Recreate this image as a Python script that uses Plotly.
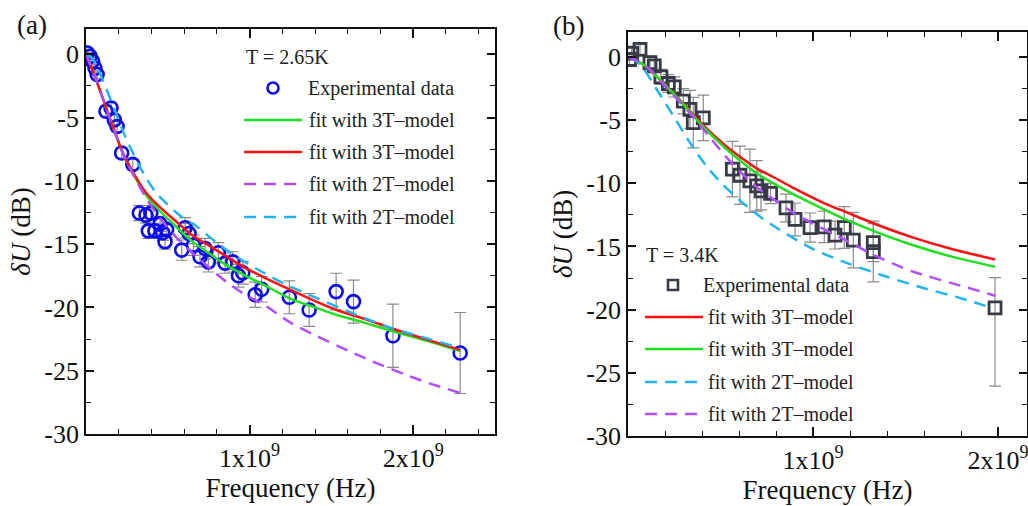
import plotly.graph_objects as go

# ---------------- Panel (a): T = 2.65K ----------------
freq_a = [0.008, 0.025, 0.040, 0.055, 0.068, 0.122, 0.153, 0.173, 0.190, 0.218,
          0.286, 0.326, 0.367, 0.396, 0.381, 0.422, 0.453, 0.469, 0.493, 0.483,
          0.606, 0.630, 0.585, 0.656, 0.697, 0.728, 0.748, 0.809, 0.850, 0.897,
          0.932, 0.958, 1.034, 1.074, 1.243, 1.364, 1.529, 1.635, 1.876, 2.287]
du_a = [0.1, -0.15, -0.55, -1.1, -1.6, -4.5, -4.24, -5.18, -5.7, -7.8,
        -8.7, -12.54, -12.72, -12.54, -13.95, -13.95, -13.4, -14.1, -13.85, -14.8,
        -13.7, -14.16, -15.47, -15.08, -16.0, -15.34, -16.4, -15.68, -16.5, -16.4,
        -17.5, -17.26, -19.0, -18.57, -19.2, -20.2, -18.75, -19.54, -22.24, -23.6]
err_a = [0.3, 0.3, 0.3, 0.3, 0.3, 0.4, 0.4, 0.4, 0.4, 0.4,
         0.4, 0.6, 0.6, 0.6, 0.6, 0.6, 0.6, 0.6, 0.6, 0.6,
         0.8, 0.8, 0.8, 0.8, 0.8, 0.8, 0.8, 0.8, 0.8, 0.8,
         0.9, 0.9, 1.0, 1.0, 1.3, 1.3, 1.45, 1.7, 2.5, 3.2]

fit3_red_f_a = [0, 0.02, 0.05, 0.086, 0.15, 0.228, 0.3, 0.371, 0.453, 0.55, 0.65,
                0.75, 0.85, 0.962, 1.084, 1.248, 1.4, 1.533, 1.7, 1.88, 2.1, 2.287]
fit3_red_a = [0, -0.6, -1.6, -2.87, -5.2, -7.86, -9.6, -11.0, -12.1, -13.2, -14.3,
              -15.1, -15.9, -16.8, -17.6, -18.6, -19.5, -20.2, -20.9, -21.7, -22.6, -23.35]
fit3_green_f_a = fit3_red_f_a
fit3_green_a = [0, -0.6, -1.6, -2.87, -5.2, -7.9, -9.7, -11.2, -12.4, -13.6, -14.8,
                -15.7, -16.6, -17.4, -18.2, -19.3, -20.0, -20.6, -21.2, -21.9, -22.7, -23.45]
fit2_cyan_f_a = [0.01, 0.035, 0.065, 0.12, 0.177, 0.23, 0.289, 0.36, 0.432, 0.493, 0.58,
                 0.677, 0.8, 0.922, 1.05, 1.207, 1.4, 1.6, 1.86, 2.1, 2.287]
fit2_cyan_a = [0, -0.3, -0.9, -2.6, -4.45, -6.2, -7.86, -9.6, -11.0, -11.8, -12.8,
               -13.6, -14.9, -16.0, -17.0, -18.1, -19.2, -20.3, -21.6, -22.5, -23.2]
fit2_purple_f_a = [0, 0.02, 0.05, 0.086, 0.15, 0.228, 0.3, 0.38, 0.45, 0.555, 0.65,
                   0.758, 0.86, 0.962, 1.1, 1.25, 1.4, 1.6, 1.757, 1.95, 2.1, 2.287]
fit2_purple_a = [0, -0.6, -1.6, -2.87, -5.2, -7.9, -9.8, -11.6, -12.9, -14.5, -15.7,
                 -16.9, -18.0, -18.9, -19.9, -21.2, -22.2, -23.4, -24.3, -25.3, -26.0, -26.75]

# ---------------- Panel (b): T = 3.4K ----------------
freq_b = [0.008, 0.020, 0.065, 0.119, 0.142, 0.178, 0.218, 0.250, 0.299, 0.335,
          0.353, 0.407, 0.564, 0.605, 0.659, 0.696, 0.719, 0.771, 0.854, 0.903,
          0.984, 1.061, 1.119, 1.169, 1.218, 1.326, 1.326, 1.984]
du_b = [-0.2, 0.3, 0.6, -0.45, -0.7, -1.58, -2.1, -2.37, -3.5, -4.14,
        -5.2, -4.82, -8.88, -9.36, -9.8, -10.2, -10.6, -10.8, -11.95, -12.86,
        -13.5, -13.45, -14.1, -13.5, -14.5, -14.7, -15.4, -19.86]
err_b_plus = [0.4, 0.4, 0.4, 0.5, 0.5, 0.6, 0.7, 0.8, 1.0, 1.5,
              2.0, 1.8, 2.2, 2.3, 2.5, 2.0, 1.5, 0.8, 1.1, 1.3,
              1.15, 1.25, 1.1, 1.65, 2.2, 1.5, 2.4, 2.4]
err_b_minus = [0.4, 0.4, 0.4, 0.5, 0.5, 0.6, 0.7, 0.8, 1.0, 1.5,
               2.0, 1.8, 2.2, 2.3, 2.5, 2.0, 1.5, 0.8, 1.1, 1.3,
               1.15, 1.25, 1.1, 1.65, 2.2, 1.5, 2.4, 6.2]

fit3_red_f_b = [0, 0.05, 0.1, 0.2, 0.3, 0.398, 0.524, 0.605, 0.704, 0.785, 0.885,
                1.065, 1.182, 1.35, 1.542, 1.75, 1.984]
fit3_red_b = [0, -0.3, -0.8, -2.2, -3.7, -5.27, -6.99, -7.9, -8.9, -9.5, -10.3,
              -11.6, -12.3, -13.3, -14.3, -15.2, -16.03]
fit3_green_f_b = fit3_red_f_b
fit3_green_b = [0, -0.3, -0.8, -2.2, -3.75, -5.4, -7.2, -8.2, -9.3, -10.0, -10.8,
                -12.1, -12.9, -13.9, -14.9, -15.8, -16.6]
fit2_cyan_f_b = [0.01, 0.04, 0.083, 0.164, 0.254, 0.34, 0.434, 0.52, 0.614, 0.72, 0.822,
                 1.0, 1.2, 1.4, 1.6, 1.8, 1.975]
fit2_cyan_b = [0, -0.3, -0.92, -2.77, -4.87, -6.9, -8.83, -10.2, -11.47, -12.7, -13.7,
               -15.2, -16.4, -17.4, -18.3, -19.1, -19.9]
fit2_purple_f_b = [0, 0.092, 0.218, 0.344, 0.45, 0.524, 0.6, 0.704, 0.8, 0.885, 1.0,
                   1.15, 1.362, 1.542, 1.75, 1.939, 1.984]
fit2_purple_b = [0, -0.66, -2.6, -4.6, -6.5, -7.8, -9.0, -10.4, -11.4, -12.26, -13.2,
                 -14.3, -15.9, -17.0, -17.9, -18.7, -18.9]

legend_a_title = "T = 2.65K"
legend_b_title = "T = 3.4K"
legend_a_labels = ["Experimental data", "fit with 3T\u2013model", "fit with 3T\u2013model",
                   "fit with 2T\u2013model", "fit with 2T\u2013model"]
legend_b_labels = ["Experimental data", "fit with 3T\u2013model", "fit with 3T\u2013model",
                   "fit with 2T\u2013model", "fit with 2T\u2013model"]
y_tick_vals = [0, -5, -10, -15, -20, -25, -30]
y_tick_text = ["0", "-5", "-10", "-15", "-20", "-25", "-30"]
x_tick_vals = [1e9, 2e9]
x_tick_text = ["1x10<sup>9</sup>", "2x10<sup>9</sup>"]

W, H = 1028, 506
FONT = "Liberation Serif"
BLUE = "#0b0bf0"
GREEN = "#1fe01f"
RED = "#ff1010"
PURPLE = "#b24dfb"
CYAN = "#21b4f2"
SQ = "#363b47"
DASH = "12px,8px"

fig = go.Figure()

def G(v):
    return [x * 1e9 for x in v]

# panel a traces
fig.add_trace(go.Scatter(x=G(freq_a), y=du_a, mode="markers", xaxis="x", yaxis="y",
                         marker=dict(symbol="circle-open", size=13, color=BLUE, line=dict(width=2.6)),
                         error_y=dict(type="data", array=err_a, color="#8a8a8a", thickness=1.2, width=6),
                         showlegend=False))
for fx, fy, col, dash in [(fit3_green_f_a, fit3_green_a, GREEN, "solid"),
                          (fit3_red_f_a, fit3_red_a, RED, "solid"),
                          (fit2_purple_f_a, fit2_purple_a, PURPLE, DASH),
                          (fit2_cyan_f_a, fit2_cyan_a, CYAN, DASH)]:
    fig.add_trace(go.Scatter(x=G(fx), y=fy, mode="lines", xaxis="x", yaxis="y",
                             line=dict(color=col, width=2.5, dash=dash, shape="spline", smoothing=0.8),
                             showlegend=False))

# panel b traces
fig.add_trace(go.Scatter(x=G(freq_b), y=du_b, mode="markers", xaxis="x2", yaxis="y2",
                         marker=dict(symbol="square-open", size=12, color=SQ, line=dict(width=2.8)),
                         error_y=dict(type="data", array=err_b_plus, arrayminus=err_b_minus,
                                      symmetric=False, color="#8a8a8a", thickness=1.2, width=6),
                         showlegend=False))
for fx, fy, col, dash in [(fit3_red_f_b, fit3_red_b, RED, "solid"),
                          (fit3_green_f_b, fit3_green_b, GREEN, "solid"),
                          (fit2_cyan_f_b, fit2_cyan_b, CYAN, DASH),
                          (fit2_purple_f_b, fit2_purple_b, PURPLE, DASH)]:
    fig.add_trace(go.Scatter(x=G(fx), y=fy, mode="lines", xaxis="x2", yaxis="y2",
                             line=dict(color=col, width=2.5, dash=dash, shape="spline", smoothing=0.8),
                             showlegend=False))

tickfont = dict(family=FONT, size=26, color="#111")
titlefont = dict(family=FONT, size=27, color="#111")

def xaxis(domain, rng, anchor):
    return dict(domain=domain, range=rng, anchor=anchor, showgrid=False, zeroline=False,
                automargin=False, ticklabeloverflow="allow",
                showline=True, linecolor="#111", linewidth=1.6, mirror="ticks",
                tickmode="array", tickvals=x_tick_vals, ticktext=x_tick_text,
                ticks="inside", ticklen=9, tickwidth=1.6, tickcolor="#111", tickfont=tickfont,
                minor=dict(tickmode="linear", tick0=0, dtick=2e8, ticks="inside", ticklen=5,
                           tickwidth=1.4, tickcolor="#111", showgrid=False),
                title=dict(text="Frequency (Hz)", font=titlefont, standoff=2))

def yaxis(domain, anchor):
    return dict(domain=domain, range=[-30, 2], anchor=anchor, showgrid=False, zeroline=False,
                automargin=False,
                showline=True, linecolor="#111", linewidth=1.6, mirror="ticks",
                tickmode="array", tickvals=y_tick_vals, ticktext=y_tick_text,
                ticks="inside", ticklen=8, tickwidth=1.6, tickcolor="#111", tickfont=tickfont,
                minor=dict(tickmode="linear", tick0=0, dtick=2.5, ticks="inside", ticklen=5,
                           tickwidth=1.4, tickcolor="#111", showgrid=False),
                title=dict(text="<i>\u03b4U</i> (dB)", font=titlefont, standoff=6))

xa_dom = [86 / W, 495 / W]
xb_dom = [628 / W, 1027 / W]
ya_dom = [(H - 434) / H, (H - 29) / H]
yb_dom = [(H - 436) / H, (H - 31.7) / H]

fig.update_layout(
    width=W, height=H, margin=dict(l=0, r=0, t=0, b=0, autoexpand=False),
    paper_bgcolor="white", plot_bgcolor="white",
    xaxis=xaxis(xa_dom, [0, 2.5e9], "y"),
    yaxis=yaxis(ya_dom, "x"),
    xaxis2=xaxis(xb_dom, [0, (1027 - 628) / 185 * 1e9], "y2"),
    yaxis2=yaxis(yb_dom, "x2"),
    showlegend=False,
)

def px(x):
    return x / W

def py(y):
    return 1 - y / H

annotations = [
    dict(text="(a)", x=px(32), y=py(25), xref="paper", yref="paper", showarrow=False,
         font=dict(family=FONT, size=27, color="#111"), xanchor="center", yanchor="middle"),
    dict(text="(b)", x=px(568), y=py(26), xref="paper", yref="paper", showarrow=False,
         font=dict(family=FONT, size=27, color="#111"), xanchor="center", yanchor="middle"),
]
shapes = []
legfont = dict(family=FONT, size=20, color="#222")

def add_legend(title, tx, ty, marker_kind, mx, my, labels, entries, text_x, line_x0, line_x1):
    annotations.append(dict(text=title, x=px(tx), y=py(ty), xref="paper", yref="paper",
                            showarrow=False, font=legfont, xanchor="left", yanchor="middle"))
    if marker_kind == "circle":
        shapes.append(dict(type="circle", xref="paper", yref="paper", xsizemode="pixel",
                           ysizemode="pixel", xanchor=px(mx), yanchor=py(my),
                           x0=-5.5, x1=5.5, y0=-5.5, y1=5.5, line=dict(color=BLUE, width=2.6)))
    else:
        shapes.append(dict(type="rect", xref="paper", yref="paper", xsizemode="pixel",
                           ysizemode="pixel", xanchor=px(mx), yanchor=py(my),
                           x0=-5, x1=5, y0=-5, y1=5, line=dict(color=SQ, width=2.6)))
    annotations.append(dict(text=labels[0], x=px(text_x[0]), y=py(my), xref="paper", yref="paper",
                            showarrow=False, font=legfont, xanchor="left", yanchor="middle"))
    for lab, (ly, col, dash) in zip(labels[1:], entries):
        shapes.append(dict(type="line", xref="paper", yref="paper", x0=px(line_x0), x1=px(line_x1),
                           y0=py(ly), y1=py(ly), line=dict(color=col, width=2.5, dash=dash)))
        annotations.append(dict(text=lab, x=px(text_x[1]), y=py(ly), xref="paper", yref="paper",
                                showarrow=False, font=legfont, xanchor="left", yanchor="middle"))

add_legend(legend_a_title, 244, 57, "circle", 273, 88, legend_a_labels,
           [(120, GREEN, "solid"), (152, RED, "solid"), (184, PURPLE, DASH), (217, CYAN, DASH)],
           (306, 307), 244, 302)
add_legend(legend_b_title, 644, 255, "square", 673, 285, legend_b_labels,
           [(317, RED, "solid"), (349, GREEN, "solid"), (382, CYAN, DASH), (414, PURPLE, DASH)],
           (701, 706), 645, 703)

fig.update_layout(annotations=annotations, shapes=shapes)
fig.write_html("out.html")
